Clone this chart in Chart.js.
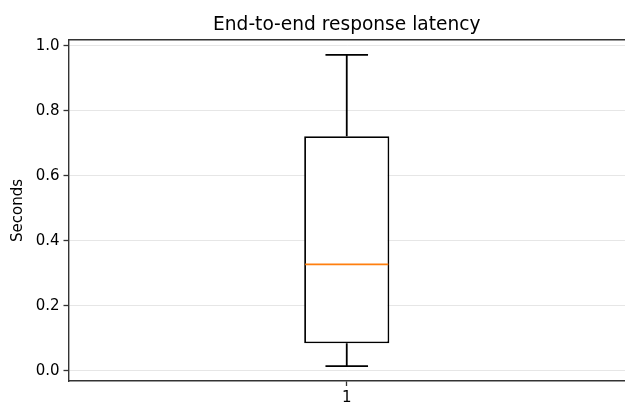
<!DOCTYPE html>
<html>
<head>
<meta charset="utf-8">
<script src="https://cdn.jsdelivr.net/npm/chart.js@4/dist/chart.umd.min.js"></script>
<style>
  html, body { margin: 0; padding: 0; background: #fff; overflow: hidden; }
  #wrap { width: 625px; height: 404px; }
</style>
</head>
<body>
<div id="wrap"><canvas id="myChart"></canvas></div>
<script>
const categories = ['1'];
const q1 = [0.085];
const q3 = [0.722];
const medians = [0.328];
const whiskerLow = [0.015];
const whiskerHigh = [0.972];
const yTicks = [0.0, 0.2, 0.4, 0.6, 0.8, 1.0];

const spine = '#333333';
const font = 'DejaVu Sans';

// whiskers, caps, median and top spine drawn through the chart's scales
const boxExtras = {
    id: 'boxExtras',
    afterDatasetsDraw(chart) {
        const c = chart.ctx;
        const x = chart.scales.x, y = chart.scales.y;
        const meta = chart.getDatasetMeta(0);
        c.save();
        categories.forEach((cat, i) => {
            const cx = x.getPixelForValue(i);
            const w = meta.data[i].width;
            c.lineWidth = 1.8;
            c.strokeStyle = '#000';
            c.beginPath();
            c.moveTo(cx, y.getPixelForValue(q3[i]));
            c.lineTo(cx, y.getPixelForValue(whiskerHigh[i]));
            c.moveTo(cx, y.getPixelForValue(q1[i]));
            c.lineTo(cx, y.getPixelForValue(whiskerLow[i]));
            c.moveTo(cx - w / 4, y.getPixelForValue(whiskerHigh[i]));
            c.lineTo(cx + w / 4, y.getPixelForValue(whiskerHigh[i]));
            c.moveTo(cx - w / 4, y.getPixelForValue(whiskerLow[i]));
            c.lineTo(cx + w / 4, y.getPixelForValue(whiskerLow[i]));
            c.stroke();
            c.strokeStyle = '#ff7f0e';
            c.beginPath();
            c.moveTo(cx - w / 2 + 1, y.getPixelForValue(medians[i]));
            c.lineTo(cx + w / 2 - 1, y.getPixelForValue(medians[i]));
            c.stroke();
        });
        const a = chart.chartArea;
        c.strokeStyle = spine;
        c.lineWidth = 1.4;
        c.beginPath();
        c.moveTo(a.left, a.top);
        c.lineTo(chart.width, a.top);
        c.stroke();
        c.restore();
    }
};

const ctx = document.getElementById('myChart');

new Chart(ctx, {
    type: 'bar',
    data: {
        labels: categories,
        datasets: [{
            data: categories.map((c, i) => [q1[i], q3[i]]),
            backgroundColor: '#ffffff',
            borderColor: '#000000',
            borderWidth: 1.8,
            borderSkipped: false,
            barPercentage: 0.153,
            categoryPercentage: 1
        }]
    },
    plugins: [boxExtras],
    options: {
        responsive: true,
        maintainAspectRatio: false,
        animation: false,
        layout: { padding: { left: 4, right: -5, top: 0, bottom: 0 } },
        plugins: {
            legend: { display: false },
            tooltip: { enabled: false },
            title: {
                display: true,
                fullSize: false,
                text: 'End-to-end response latency',
                color: '#000',
                font: { family: font, size: 18.6, weight: 'normal' },
                padding: { top: 14.5, bottom: 3 }
            }
        },
        scales: {
            x: {
                afterFit: (axis) => {
                    axis.height = 23;
                },
                grid: {
                    offset: false,
                    color: 'transparent',
                    tickColor: spine,
                    tickLength: 5,
                    tickWidth: 1.3
                },
                border: { display: true, color: spine, width: 1.4 },
                ticks: {
                    color: '#000',
                    font: { family: font, size: 15 },
                    padding: 3
                }
            },
            y: {
                min: -0.0308,
                max: 1.0185,
                afterBuildTicks: (axis) => {
                    axis.ticks = yTicks.map(v => ({ value: v }));
                },
                afterFit: (axis) => {
                    axis.width = 64.5;
                },
                grid: {
                    color: '#e6e6e6',
                    lineWidth: 1,
                    tickColor: spine,
                    tickLength: 5,
                    tickWidth: 1.3
                },
                border: { display: true, color: spine, width: 1.4 },
                ticks: {
                    color: '#000',
                    font: { family: font, size: 15 },
                    padding: 4,
                    callback: (v) => Number(v).toFixed(1)
                },
                title: {
                    display: true,
                    text: 'Seconds',
                    color: '#000',
                    font: { family: font, size: 15 },
                    padding: { top: 5.5, bottom: 0 }
                }
            }
        }
    }
});
</script>
</body>
</html>
